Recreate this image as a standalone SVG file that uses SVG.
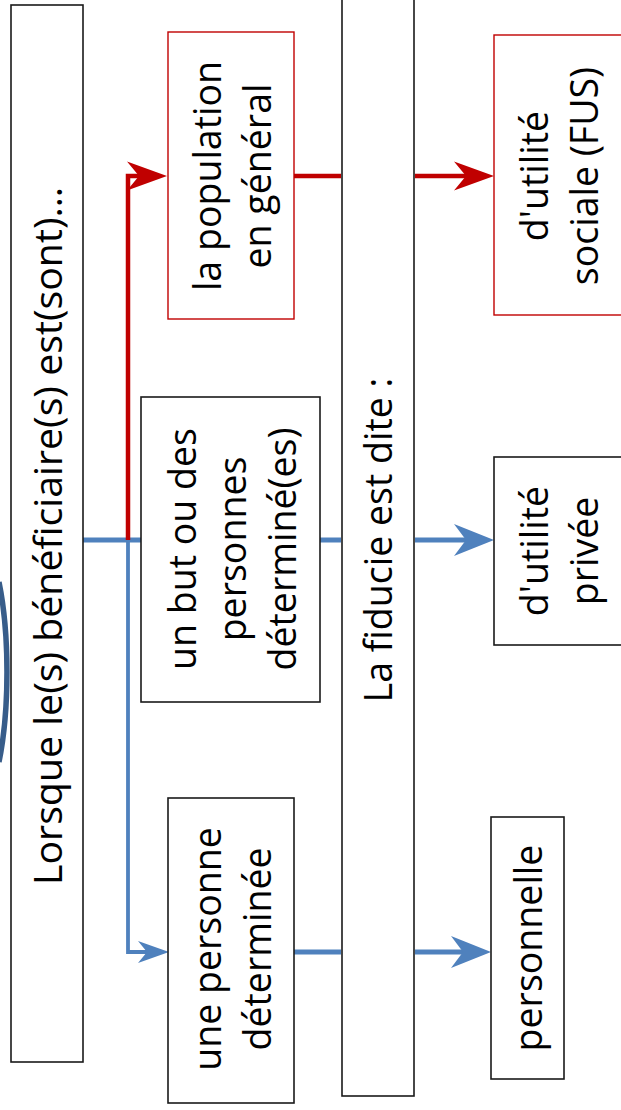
<svg xmlns="http://www.w3.org/2000/svg" width="621" height="1110" viewBox="0 0 621 1110">
<style>
.box{fill:#fff;stroke:#1a1a1a;stroke-width:1.6}
.rbox{fill:#fff;stroke:#C00000;stroke-width:1.4}
.t{font-family:"Open Sans","Liberation Sans",sans-serif;font-size:37.5px;fill:#000;text-anchor:middle}
.red{fill:none;stroke:#C00000;stroke-width:4.5}
.blue{fill:none;stroke:#4F81BD;stroke-width:5}
.blue-thin{fill:none;stroke:#4F81BD;stroke-width:3.8}
</style>
<defs>
<marker id="ar" viewBox="0 -15 40 30" refX="20" refY="0" markerWidth="40" markerHeight="30" markerUnits="userSpaceOnUse" orient="auto"><path d="M0,-14.5 L40,0 L0,14.5 L12,0 Z" fill="#C00000"/></marker>
<marker id="ab" viewBox="0 -18 40 36" refX="20" refY="0" markerWidth="40" markerHeight="36" markerUnits="userSpaceOnUse" orient="auto"><path d="M0,-16 L40,0 L0,16 L12,0 Z" fill="#4F81BD"/></marker>
<marker id="abs" viewBox="0 -12 31 24" refX="15" refY="0" markerWidth="31" markerHeight="24" markerUnits="userSpaceOnUse" orient="auto"><path d="M0,-11 L31,0 L0,11 L9,0 Z" fill="#4F81BD"/></marker>
</defs>

<path id="arc" d="M-1,582 A34,140 0 0 1 -1,762" fill="none" stroke="#385D8A" stroke-width="5.5"/>

<g id="connectors">
<path class="blue-thin" d="M128,540 V952 H153" marker-end="url(#abs)"/>
<path class="blue" d="M83,540 H141"/>
<path class="red" d="M128,540 V176 H147" stroke-linejoin="miter" marker-end="url(#ar)"/>
<path class="red" d="M294,176 H341"/>
<path class="red" d="M415,176 H474" marker-end="url(#ar)"/>
<path class="blue" d="M320,540 H341"/>
<path class="blue" d="M415,540 H474" marker-end="url(#ab)"/>
<path class="blue" d="M294,952 H341"/>
<path class="blue" d="M415,952 H471" marker-end="url(#ab)"/>
</g>

<g id="n-lorsque">
<rect class="box" x="11" y="5" width="72" height="1057"/>
<text class="t" transform="translate(62,536) rotate(-90)" textLength="698" lengthAdjust="spacingAndGlyphs">Lorsque le(s) bénéficiaire(s) est(sont)…</text>
</g>

<g id="n-population">
<rect class="rbox" x="168" y="32" width="126" height="287"/>
<text class="t" transform="translate(221,176) rotate(-90)">la population</text>
<text class="t" transform="translate(271,176) rotate(-90)">en général</text>
</g>

<g id="n-but">
<rect class="box" x="141" y="397" width="179" height="305"/>
<text class="t" transform="translate(196,549) rotate(-90)">un but ou des</text>
<text class="t" transform="translate(246,549) rotate(-90)">personnes</text>
<text class="t" transform="translate(296,549) rotate(-90)">déterminé(es)</text>
</g>

<g id="n-personne">
<rect class="box" x="168" y="798" width="126" height="305"/>
<text class="t" transform="translate(221,949) rotate(-90)">une personne</text>
<text class="t" transform="translate(271,949) rotate(-90)">déterminée</text>
</g>

<g id="n-fiducie">
<rect class="box" x="342" y="-5" width="72" height="1101"/>
<text class="t" transform="translate(392,540) rotate(-90)">La fiducie est dite :</text>
</g>

<g id="n-sociale">
<rect class="rbox" x="494" y="35" width="128" height="280"/>
<text class="t" transform="translate(548,176) rotate(-90)">d'utilité</text>
<text class="t" transform="translate(598,176) rotate(-90)">sociale (FUS)</text>
</g>

<g id="n-privee">
<rect class="box" x="494" y="457" width="130" height="188"/>
<text class="t" transform="translate(548,551) rotate(-90)">d'utilité</text>
<text class="t" transform="translate(598,551) rotate(-90)">privée</text>
</g>

<g id="n-personnelle">
<rect class="box" x="491" y="817" width="73" height="262"/>
<text class="t" transform="translate(542,948) rotate(-90)">personnelle</text>
</g>
</svg>
